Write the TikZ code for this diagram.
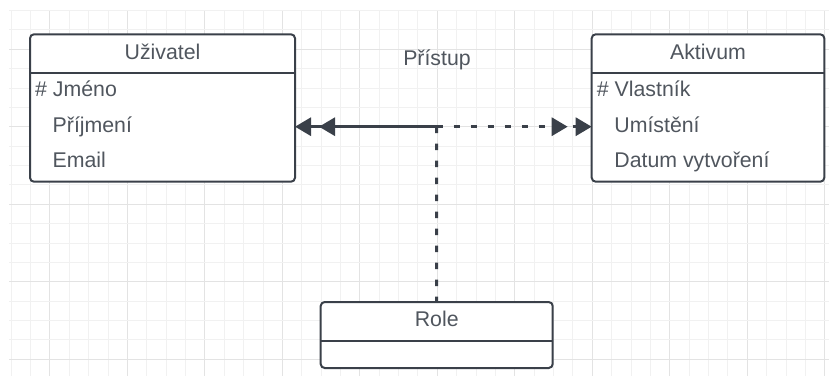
\documentclass[tikz,border=0pt]{standalone}
\usepackage{fontspec}
\setmainfont{Liberation Sans}
\usetikzlibrary{arrows.meta}
\definecolor{ink}{HTML}{3A4049}
\definecolor{txt}{HTML}{50565E}
\definecolor{gridminor}{HTML}{F1F1F1}
\definecolor{gridmajor}{HTML}{E3E3E3}
\begin{document}
\begin{tikzpicture}[x=1bp,y=-1bp,
  entity/.style={draw=ink, line width=2bp, rounded corners=4bp, fill=white,
    inner sep=0pt, outer sep=0pt, anchor=north west},
  divider/.style={draw=ink, line width=2bp},
  label/.style={text=txt, inner sep=0pt, font=\fontsize{21.3bp}{25bp}\selectfont},
  title/.style={label, anchor=base},
  attr/.style={label, anchor=base west},
  conn/.style={draw=ink, line width=3bp},
  dashedconn/.style={conn, dash pattern=on 6.5bp off 10.5bp},
  twotips/.style={-{Triangle[length=16bp,width=18bp,sep=8bp]Triangle[length=16bp,width=18bp]}}
]
% canvas and background grid
\fill[white] (0,0) rectangle (829,376);
\useasboundingbox (0,0) rectangle (829,376);
\begin{scope}
  \clip (9,10) rectangle (829,376);
  \foreach \k in {0,...,42} {
    \pgfmathtruncatemacro{\r}{mod(\k,4)}
    \ifnum\r=2 \def\gc{gridmajor}\else\def\gc{gridminor}\fi
    \draw[\gc, line width=1bp] ({11.2+19.37*\k},10) -- ({11.2+19.37*\k},376);
  }
  \foreach \m in {0,...,18} {
    \pgfmathtruncatemacro{\r}{mod(\m,4)}
    \ifnum\r=2 \def\gc{gridmajor}\else\def\gc{gridminor}\fi
    \draw[\gc, line width=1bp] (9,{10.5+19.38*\m}) -- (829,{10.5+19.38*\m});
  }
\end{scope}

% Uživatel
\node[entity, minimum width=265bp, minimum height=147.4bp] (uziv) at (30,34.3) {};
\draw[divider] ([yshift=-38.4bp]uziv.north west) -- ([yshift=-38.4bp]uziv.north east);
\node[title] (uziv-t) at ([yshift=-24.7bp]uziv.north) {Uživatel};
\node[attr] (uziv-a1) at ([xshift=5bp,yshift=-62bp]uziv.north west) {\# Jméno};
\node[attr] (uziv-a2) at ([xshift=22.5bp,yshift=-97.8bp]uziv.north west) {Příjmení};
\node[attr] (uziv-a3) at ([xshift=22.5bp,yshift=-133.4bp]uziv.north west) {Email};

% Aktivum
\node[entity, minimum width=232.6bp, minimum height=147.4bp] (akt) at (591.7,34.3) {};
\draw[divider] ([yshift=-38.4bp]akt.north west) -- ([yshift=-38.4bp]akt.north east);
\node[title] (akt-t) at ([yshift=-24.7bp]akt.north) {Aktivum};
\node[attr] (akt-a1) at ([xshift=5bp,yshift=-62bp]akt.north west) {\# Vlastník};
\node[attr] (akt-a2) at ([xshift=22.5bp,yshift=-97.8bp]akt.north west) {Umístění};
\node[attr] (akt-a3) at ([xshift=22.5bp,yshift=-133.4bp]akt.north west) {Datum vytvoření};

% Role
\node[entity, minimum width=232bp, minimum height=66bp] (role) at (320.7,302) {};
\draw[divider] ([yshift=-38.7bp]role.north west) -- ([yshift=-38.7bp]role.north east);
\node[title] (role-t) at ([yshift=-24.5bp]role.north) {Role};

% relationship
\node[title] (pristup) at (437,65) {Přístup};
\coordinate (j) at (436.7,126.7);
\draw[conn, twotips] (j) -- (uziv.east |- j);
\draw[dashedconn, twotips] (j) -- (akt.west |- j);
\draw[dashedconn] (j) -- (role.north);
\end{tikzpicture}
\end{document}
